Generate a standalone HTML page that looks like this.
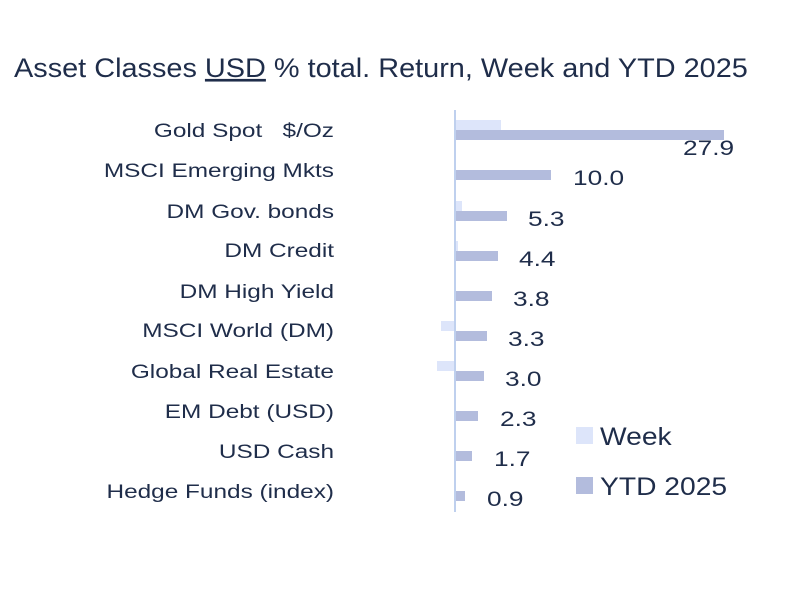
<!DOCTYPE html>
<html><head><meta charset="utf-8"><style>
html,body{margin:0;padding:0;background:#fff;width:800px;height:600px;overflow:hidden}
svg{display:block}
text{font-family:"Liberation Sans","DejaVu Sans",sans-serif;fill:#1f2d4a}
</style></head><body>
<svg width="800" height="600" viewBox="0 0 800 600">
<g transform="translate(14,0) scale(1.09,1)">
<text x="0" y="77" font-size="26.5">Asset Classes <tspan text-decoration="underline">USD</tspan> % total. Return, Week and YTD 2025</text>
</g>
<g font-size="19.5" text-anchor="end" transform="translate(334,0) scale(1.25,1)">
<text x="0" y="137">Gold Spot&#160;&#160;&#160;$/Oz</text>
<text x="0" y="177">MSCI Emerging Mkts</text>
<text x="0" y="218">DM Gov. bonds</text>
<text x="0" y="257">DM Credit</text>
<text x="0" y="298">DM High Yield</text>
<text x="0" y="337">MSCI World (DM)</text>
<text x="0" y="378">Global Real Estate</text>
<text x="0" y="418">EM Debt (USD)</text>
<text x="0" y="458">USD Cash</text>
<text x="0" y="498">Hedge Funds (index)</text>
</g>
<g fill="#dde5fa">
<rect x="456" y="120" width="45" height="10"/>
<rect x="456" y="201" width="6" height="10"/>
<rect x="456" y="241" width="2" height="10"/>
<rect x="441" y="321" width="15" height="10"/>
<rect x="437" y="361" width="19" height="10"/>
<rect x="454" y="401" width="2" height="10"/>
</g>
<g fill="#b3bcdd">
<rect x="456" y="130" width="268" height="10"/>
<rect x="456" y="170" width="95" height="10"/>
<rect x="456" y="211" width="51" height="10"/>
<rect x="456" y="251" width="42" height="10"/>
<rect x="456" y="291" width="36" height="10"/>
<rect x="456" y="331" width="31" height="10"/>
<rect x="456" y="371" width="28" height="10"/>
<rect x="456" y="411" width="22" height="10"/>
<rect x="456" y="451" width="16" height="10"/>
<rect x="456" y="491" width="9" height="10"/>
</g>
<line x1="455" y1="110" x2="455" y2="512" stroke="#bfd0ee" stroke-width="2"/>
<g font-size="21">
<text transform="translate(683,155) scale(1.25,1)">27.9</text>
<text transform="translate(573,185) scale(1.25,1)">10.0</text>
<text transform="translate(528,226) scale(1.25,1)">5.3</text>
<text transform="translate(519,266) scale(1.25,1)">4.4</text>
<text transform="translate(513,306) scale(1.25,1)">3.8</text>
<text transform="translate(508,346) scale(1.25,1)">3.3</text>
<text transform="translate(505,386) scale(1.25,1)">3.0</text>
<text transform="translate(500,426) scale(1.25,1)">2.3</text>
<text transform="translate(494,466) scale(1.25,1)">1.7</text>
<text transform="translate(487,506) scale(1.25,1)">0.9</text>
</g>
<rect x="576" y="427" width="17" height="17" fill="#dde5fa"/>
<rect x="576" y="477" width="17" height="17" fill="#b3bcdd"/>
<text transform="translate(600,445) scale(1.13,1)" font-size="25">Week</text>
<text transform="translate(600,495) scale(1.13,1)" font-size="25">YTD 2025</text>
</svg>
</body></html>
